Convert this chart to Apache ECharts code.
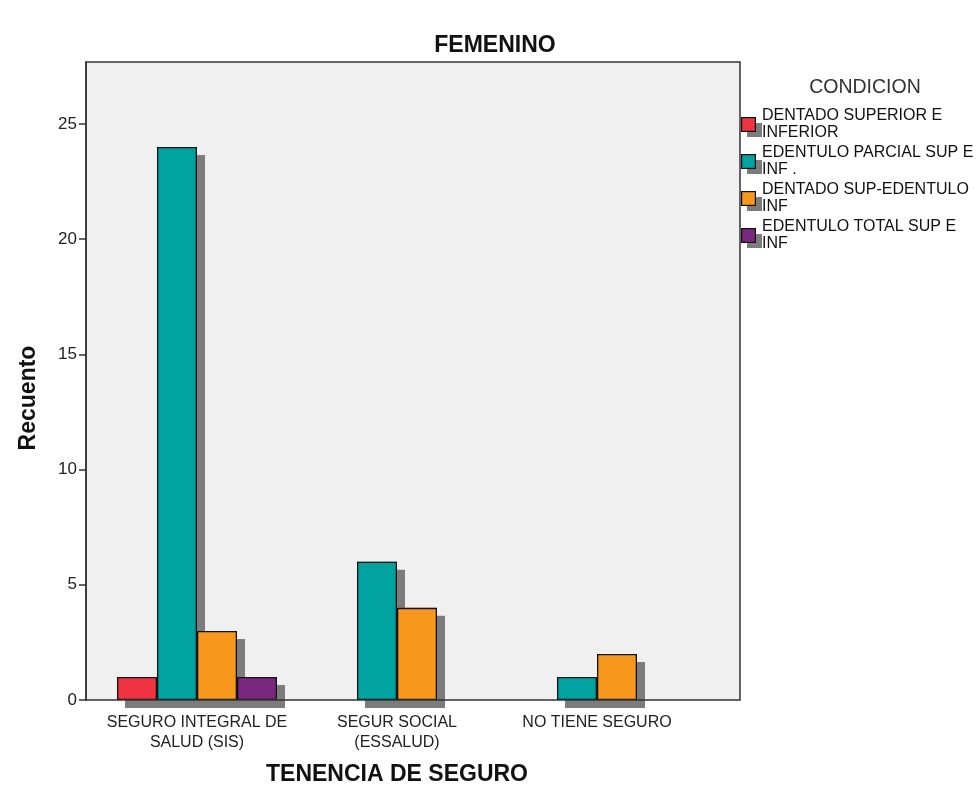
<!DOCTYPE html>
<html>
<head>
<meta charset="utf-8">
<script src="https://cdn.jsdelivr.net/npm/echarts@6/dist/echarts.min.js"></script>
<style>html,body{margin:0;padding:0;background:#fff}#c{width:978px;height:789px}</style>
</head>
<body>
<div id="c"></div>
<script>
const categories = ['SEGURO INTEGRAL DE\nSALUD (SIS)', 'SEGUR SOCIAL\n(ESSALUD)', 'NO TIENE SEGURO'];
const seriesNames = ['DENTADO SUPERIOR E INFERIOR', 'EDENTULO PARCIAL SUP E INF.', 'DENTADO SUP-EDENTULO INF', 'EDENTULO TOTAL SUP E INF'];
const legendLabels = ['DENTADO SUPERIOR E\nINFERIOR', 'EDENTULO PARCIAL SUP E\nINF .', 'DENTADO SUP-EDENTULO\nINF', 'EDENTULO TOTAL SUP E\nINF'];
const dentadoSupInf = [1, null, null];
const edentuloParcial = [24, 6, 1];
const dentadoSupEdentuloInf = [3, 4, 2];
const edentuloTotal = [1, null, null];
const colors = ['#ef3340', '#00a39f', '#f7981d', '#7a287f'];
const yTicks = [0, 5, 10, 15, 20, 25];

const font = 'Liberation Sans, Arial, sans-serif';
const shadowGray = '#7c7c7c';
const values = [dentadoSupInf, edentuloParcial, dentadoSupEdentuloInf, edentuloTotal];

function legendIcon(color) {
  const svg = '<svg xmlns="http://www.w3.org/2000/svg" width="21" height="26" viewBox="0 0 21 26">' +
    '<rect x="6" y="12" width="15" height="14" fill="' + shadowGray + '"/>' +
    '<rect x="0.6" y="6.6" width="13.8" height="13.8" fill="' + color + '" stroke="#111" stroke-width="1.2"/></svg>';
  return 'image://data:image/svg+xml;charset=utf-8,' + encodeURIComponent(svg);
}

const chart = echarts.init(document.getElementById('c'), null, {renderer: 'canvas'});

// fill + drop shadow (no border)
const fillSeries = seriesNames.map((n, i) => ({
  name: n,
  type: 'bar',
  xAxisIndex: 0,
  data: values[i],
  barWidth: 40,
  barGap: '0%',
  clip: false,
  z: 2,
  itemStyle: {
    color: colors[i],
    borderWidth: 0,
    shadowColor: shadowGray,
    shadowBlur: 0,
    shadowOffsetX: 8,
    shadowOffsetY: 8
  },
  emphasis: {disabled: true}
}));
// outlines drawn on top, same positions via a twin category axis
const outlineSeries = seriesNames.map((n, i) => ({
  name: n,
  type: 'bar',
  xAxisIndex: 1,
  data: values[i],
  barWidth: 40,
  barGap: '0%',
  clip: false,
  z: 3,
  itemStyle: {color: 'rgba(0,0,0,0)', borderColor: '#111', borderWidth: 1.3},
  emphasis: {disabled: true},
  silent: true
}));

chart.setOption({
  animation: false,
  textStyle: {fontFamily: font},
  title: [
    {text: 'FEMENINO', left: 490, textAlign: 'center', top: 29,
     textStyle: {fontFamily: font, fontSize: 23, fontWeight: 'bold', color: '#111'}},
    {text: 'CONDICION', left: 860, textAlign: 'center', top: 73,
     textStyle: {fontFamily: font, fontSize: 19.5, fontWeight: 'normal', color: '#333'}}
  ],
  graphic: [
    {type: 'rect', shape: {x: 86, y: 62, width: 654, height: 638}, style: {fill: '#f0f0f0'}, z: -10, silent: true},
    {type: 'rect', shape: {x: 86, y: 62, width: 654, height: 638}, style: {fill: 'none', stroke: '#333', lineWidth: 1.5}, z: 100, silent: true},
    {type: 'text', x: 29, y: 398, rotation: Math.PI / 2, silent: true,
     style: {text: 'Recuento', font: 'bold 23px ' + font, fill: '#111', align: 'center', verticalAlign: 'middle'}}
  ],
  legend: {
    orient: 'vertical',
    left: 741,
    top: 107,
    padding: 0,
    itemWidth: 21,
    itemHeight: 26,
    itemGap: 3,
    data: seriesNames.map((n, i) => ({name: n, icon: legendIcon(colors[i])})),
    formatter: name => legendLabels[seriesNames.indexOf(name)],
    textStyle: {fontFamily: font, fontSize: 16, color: '#111', lineHeight: 17, padding: [0, 0, 0, -5]},
    selectedMode: false
  },
  grid: {left: 97, top: 62, width: 600, height: 638, containLabel: false, outerBoundsMode: 'none'},
  xAxis: [{
    type: 'category',
    data: categories,
    name: 'TENENCIA DE SEGURO',
    nameLocation: 'middle',
    nameGap: 63,
    nameTextStyle: {fontFamily: font, fontSize: 23, fontWeight: 'bold', color: '#111'},
    axisLine: {show: false},
    axisTick: {show: true, alignWithLabel: true, length: 6, lineStyle: {color: '#333', width: 1.5}},
    axisLabel: {fontFamily: font, fontSize: 16, color: '#222', lineHeight: 19.5, margin: 13, interval: 0},
    splitLine: {show: false}
  }, {
    type: 'category',
    data: categories,
    show: false
  }],
  yAxis: {
    type: 'value',
    min: 0,
    max: 27.69,
    interval: 5,
    offset: 11,
    axisLine: {show: true, lineStyle: {color: '#333', width: 1.5}},
    axisTick: {show: true, length: 7, lineStyle: {color: '#333', width: 1.5}, customValues: yTicks},
    axisLabel: {fontFamily: font, fontSize: 17, color: '#222', margin: 9, customValues: yTicks},
    splitLine: {show: false}
  },
  series: fillSeries.concat(outlineSeries)
});
</script>
</body>
</html>
